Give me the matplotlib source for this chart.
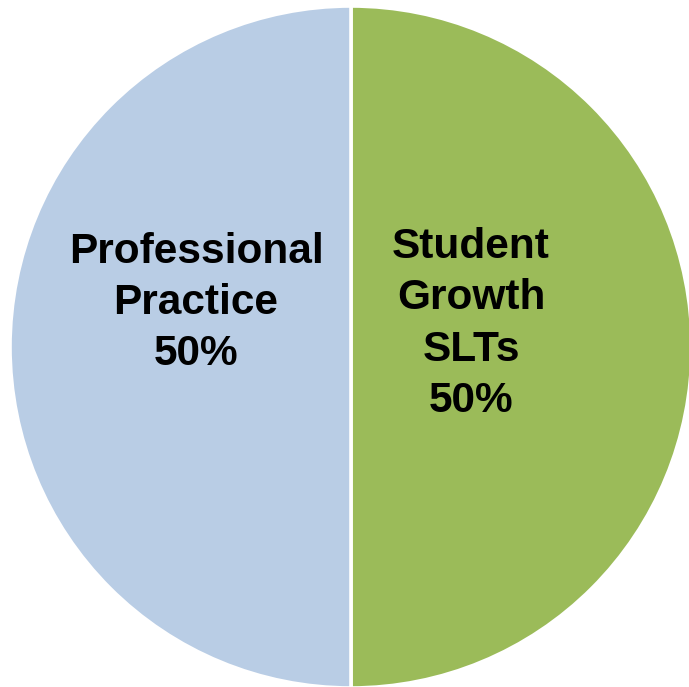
import matplotlib
matplotlib.use('Agg')
import matplotlib.pyplot as plt

# slices, clockwise from 12 o'clock
labels = ['Student\nGrowth\nSLTs', 'Professional\nPractice']
values = [50, 50]
colors = ['#9BBB59', '#B9CDE5']

W, H = 689, 687
fig = plt.figure(figsize=(W / 100, H / 100), dpi=100)
ax = fig.add_axes([0, 0, 1, 1])

cx, cy, r = 351, 347, 341
wedges, _ = ax.pie(values, colors=colors, startangle=90, counterclock=False,
                   center=(cx, cy), radius=r, frame=True,
                   wedgeprops=dict(edgecolor='white', linewidth=2.6))
ax.set_xlim(0, W)
ax.set_ylim(H, 0)
ax.set_aspect('equal')
ax.axis('off')

# label offsets from the centre (pixels, y down)
offsets = [(120, -23), (-155, -44)]
for lab, v, (dx, dy) in zip(labels, values, offsets):
    ax.text(cx + dx, cy + dy, f'{lab}\n{v}%', ha='center', va='center',
            fontsize=30.5, fontweight='bold', family='Liberation Sans',
            linespacing=1.37, color='black')

fig.savefig('out.png', dpi=100)
